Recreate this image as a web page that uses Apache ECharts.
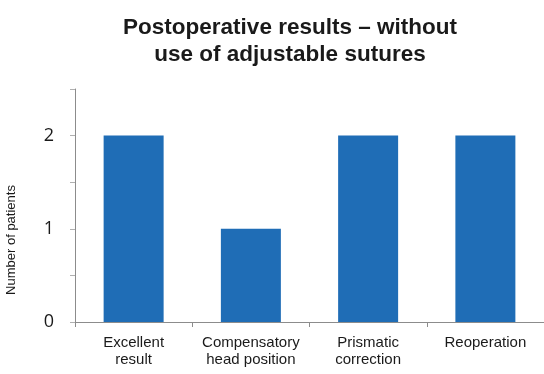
<!DOCTYPE html>
<html>
<head>
<meta charset="utf-8">
<script src="https://cdn.jsdelivr.net/npm/echarts@6/dist/echarts.min.js"></script>
<style>
  html, body { margin: 0; padding: 0; background: #fff; }
  #main { width: 544px; height: 374px; }
</style>
</head>
<body>
<div id="main"></div>
<script>
var categories = ['Excellent\nresult', 'Compensatory\nhead position', 'Prismatic\ncorrection', 'Reoperation'];
var patients = [2, 1, 2, 2];
var yTickLabels = ['0', '1', '2'];

var chart = echarts.init(document.getElementById('main'));

var option = {
  animation: false,
  title: {
    text: 'Postoperative results \u2013 without\nuse of adjustable sutures',
    left: 285,
    top: 9,
    textAlign: 'center',
    textStyle: {
      fontFamily: 'Liberation Sans, Arial',
      fontWeight: 'bold',
      fontSize: 22.5,
      lineHeight: 27,
      color: '#1a1a1a'
    }
  },
  graphic: [{
    type: 'text',
    x: 5,
    y: 240,
    rotation: Math.PI / 2,
    style: {
      text: 'Number of patients',
      font: '13px "Liberation Sans", Arial',
      fill: '#1a1a1a',
      align: 'center',
      verticalAlign: 'top'
    }
  }],
  grid: {
    left: 75,
    right: -3,
    top: 89,
    bottom: 52
  },
  xAxis: {
    type: 'category',
    data: categories,
    axisLine: { lineStyle: { color: '#8c8c8c' } },
    axisTick: { show: true, length: 5, lineStyle: { color: '#8c8c8c' } },
    axisLabel: {
      interval: 0,
      hideOverlap: false,
      fontFamily: 'Liberation Sans, Arial',
      fontSize: 15,
      color: '#1a1a1a',
      lineHeight: 17,
      margin: 12
    }
  },
  yAxis: {
    type: 'value',
    min: 0,
    max: 2.5,
    interval: 0.5,
    axisLine: { show: true, lineStyle: { color: '#8c8c8c' } },
    axisTick: { show: true, length: 5, lineStyle: { color: '#b0b0b0' } },
    splitLine: { show: false },
    axisLabel: {
      fontFamily: 'Open Sans, DejaVu Sans',
      fontSize: 18,
      color: '#1a1a1a',
      margin: 21,
      formatter: function (v) {
        return yTickLabels.indexOf(String(v)) >= 0 ? String(v) : '';
      }
    }
  },
  series: [{
    type: 'bar',
    data: patients,
    barWidth: 60,
    itemStyle: { color: '#1f6db6' }
  }]
};
chart.setOption(option);
</script>
</body>
</html>
